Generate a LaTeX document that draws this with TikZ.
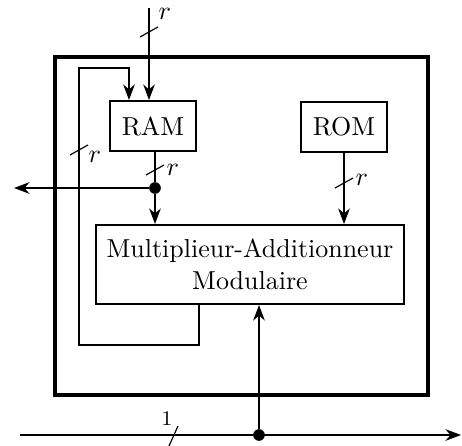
\documentclass[tikz,border=0pt]{standalone}
\usetikzlibrary{arrows.meta}
\begin{document}
\begin{tikzpicture}[x=0.385pt,y=-0.385pt,
  box/.style={draw,line width=0.8pt,inner sep=0pt},
  wire/.style={line width=0.45pt},
  arr/.style={wire,-{Stealth[length=6pt,width=4.5pt]}},
  busmark/.style={line width=0.45pt},
  dotnode/.style={circle,fill,inner sep=0pt,minimum size=4.5pt}]
\useasboundingbox (0,0) rectangle (462,445);
% outer frame
\draw[line width=1.4pt] (55,57) rectangle (428,395);
% blocks
\node[box,minimum width=33.1pt,minimum height=19.25pt] (ram) at (153,126) {RAM};
\node[box,minimum width=33.1pt,minimum height=19.25pt] (rom) at (344,127) {ROM};
\node[box,minimum width=118.6pt,minimum height=30.4pt,align=center] (mad) at (250,264.5)
  {Multiplieur-Additionneur\\[0.5pt]Modulaire};
% top input
\coordinate (tin) at (149,8);
\draw[arr] (tin) -- (tin |- ram.north);
\draw[busmark] (140,37) -- (158,27);
\node[anchor=west,inner sep=0pt] (lr1) at (158,14) {$r$};
% feedback loop
\coordinate (fb0) at (199,0);
\coordinate (fb1) at (199,345);
\coordinate (fb2) at (79,345);
\coordinate (fb3) at (79,68);
\coordinate (fb4) at (129,68);
\draw[arr] (fb0 |- mad.south) -- (fb1) -- (fb2) -- (fb3) -- (fb4) -- (fb4 |- ram.north);
\draw[busmark] (70,155) -- (88,145);
\node[anchor=west,inner sep=0pt] (lr2) at (88,157) {$r$};
% RAM output
\node[dotnode] (d1) at (155,188) {};
\draw[wire] (d1 |- ram.south) -- (d1);
\draw[arr] (d1) -- (d1 |- mad.north);
\coordinate (outl) at (14,188);
\draw[arr] (d1) -- (outl);
\draw[busmark] (146,175) -- (164,165);
\node[anchor=west,inner sep=0pt] (lr3) at (166,170) {$r$};
% ROM output
\coordinate (rx) at (344,0);
\draw[arr] (rx |- rom.south) -- (rx |- mad.north);
\draw[busmark] (335,188) -- (353,178);
\node[anchor=west,inner sep=0pt] (lr4) at (355,180) {$r$};
% bottom line
\coordinate (bl) at (20,435);
\coordinate (br) at (461,435);
\node[dotnode] (d2) at (259,435) {};
\draw[arr] (bl) -- (br);
\draw[arr] (d2) -- (d2 |- mad.south);
\draw[busmark] (169,446) -- (178,426);
\node[inner sep=0pt] (l1) at (167,419) {\footnotesize 1};
\end{tikzpicture}
\end{document}
